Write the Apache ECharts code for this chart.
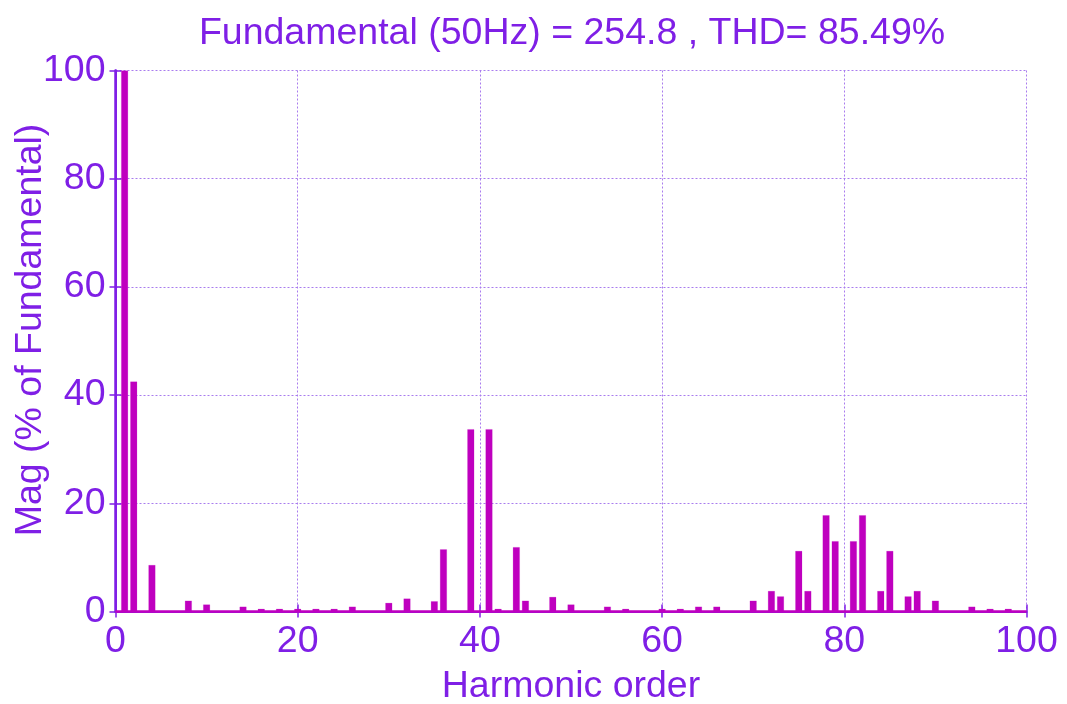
<!DOCTYPE html>
<html>
<head>
<meta charset="utf-8">
<script src="https://cdn.jsdelivr.net/npm/echarts@6/dist/echarts.min.js"></script>
<style>
html,body{margin:0;padding:0;background:#fff;}
#main{width:1067px;height:704px;}
</style>
</head>
<body>
<div id="main"></div>
<script>
const harmonics = [1,2,4,8,10,14,16,18,20,22,24,26,30,32,35,36,39,41,42,44,45,48,50,54,56,60,62,64,66,70,72,73,75,76,78,79,81,82,84,85,87,88,90,94,96,98];
const mags = [100,42.5,8.6,2.0,1.3,0.9,0.5,0.5,0.5,0.5,0.5,0.9,1.6,2.4,1.9,11.5,33.7,33.7,0.5,11.9,2.0,2.7,1.3,0.9,0.5,0.5,0.5,0.9,0.9,2.0,3.8,2.8,11.2,3.8,17.8,13.0,13.0,17.8,3.8,11.2,2.8,3.8,2.0,0.9,0.5,0.5];
const xTicks = [0,20,40,60,80,100];
const yTicks = [0,20,40,60,80,100];
const titleText = 'Fundamental (50Hz) = 254.8 , THD= 85.49%';
const xName = 'Harmonic order';
const yName = 'Mag (% of Fundamental)';

const purple = '#7F1FE6';
const gridCol = '#A97CEE';
const barCol = '#BF00BF';
const font = 'Liberation Sans, Arial, sans-serif';
const fs = 37.5;

const chart = echarts.init(document.getElementById('main'));
chart.setOption({
  animation: false,
  backgroundColor: '#fff',
  title: {
    text: titleText,
    left: 567, top: 10, textAlign: 'center',
    textStyle: {color: purple, fontFamily: font, fontSize: fs, fontWeight: 'normal'}
  },
  graphic: [{
    type: 'text', x: 31, y: 330, rotation: Math.PI / 2,
    style: {text: yName, fill: purple, font: fs + 'px ' + font, align: 'center', verticalAlign: 'middle'}
  }],
  grid: {left: 115.5, right: 40.5, top: 70.5, bottom: 92.5, containLabel: false, outerBoundsMode: 'none'},
  xAxis: [{
    type: 'value', min: 0, max: 100, interval: 20, position: 'bottom', offset: 1,
    name: xName, nameLocation: 'middle', nameGap: 55,
    nameTextStyle: {color: purple, fontFamily: font, fontSize: fs},
    axisLine: {show: true, lineStyle: {color: '#111', width: 1.5}},
    axisTick: {show: true, inside: true, length: 7, lineStyle: {color: purple, width: 1.5}},
    axisLabel: {color: purple, fontFamily: font, fontSize: fs, margin: 10,
      formatter: v => xTicks.includes(v) ? String(v) : ''},
    splitLine: {show: true, lineStyle: {color: gridCol, type: [2, 2], width: 1}}
  }, {
    type: 'value', min: 0, max: 100, interval: 20, position: 'top',
    axisLine: {show: true, lineStyle: {color: purple, width: 2}},
    axisTick: {show: true, inside: true, length: 6, lineStyle: {color: purple, width: 1.5}},
    axisLabel: {show: false}, splitLine: {show: false}
  }],
  yAxis: [{
    type: 'value', min: 0, max: 100, interval: 20, position: 'left',
    axisLine: {show: true, lineStyle: {color: purple, width: 2}},
    axisTick: {show: true, inside: true, length: 6, lineStyle: {color: purple, width: 1.5}},
    axisLabel: {color: purple, fontFamily: font, fontSize: fs, margin: 10,
      formatter: v => yTicks.includes(v) ? String(v) : ''},
    splitLine: {show: true, lineStyle: {color: gridCol, type: [2, 2], width: 1}}
  }, {
    type: 'value', min: 0, max: 100, interval: 20, position: 'right',
    axisLine: {show: true, lineStyle: {color: purple, width: 2.5}},
    axisTick: {show: true, inside: true, length: 6, lineStyle: {color: purple, width: 1.5}},
    axisLabel: {show: false}, splitLine: {show: false}
  }],
  series: [{
    type: 'bar',
    data: harmonics.map((h, i) => [h, mags[i]]),
    barWidth: 7,
    itemStyle: {color: barCol, borderColor: 'rgba(191,0,191,0.35)', borderWidth: 0.5},
    markLine: {
      silent: true, symbol: 'none', label: {show: false},
      lineStyle: {color: barCol, width: 2.5, type: 'solid'},
      data: [{yAxis: 0}]
    }
  }]
});
</script>
</body>
</html>
